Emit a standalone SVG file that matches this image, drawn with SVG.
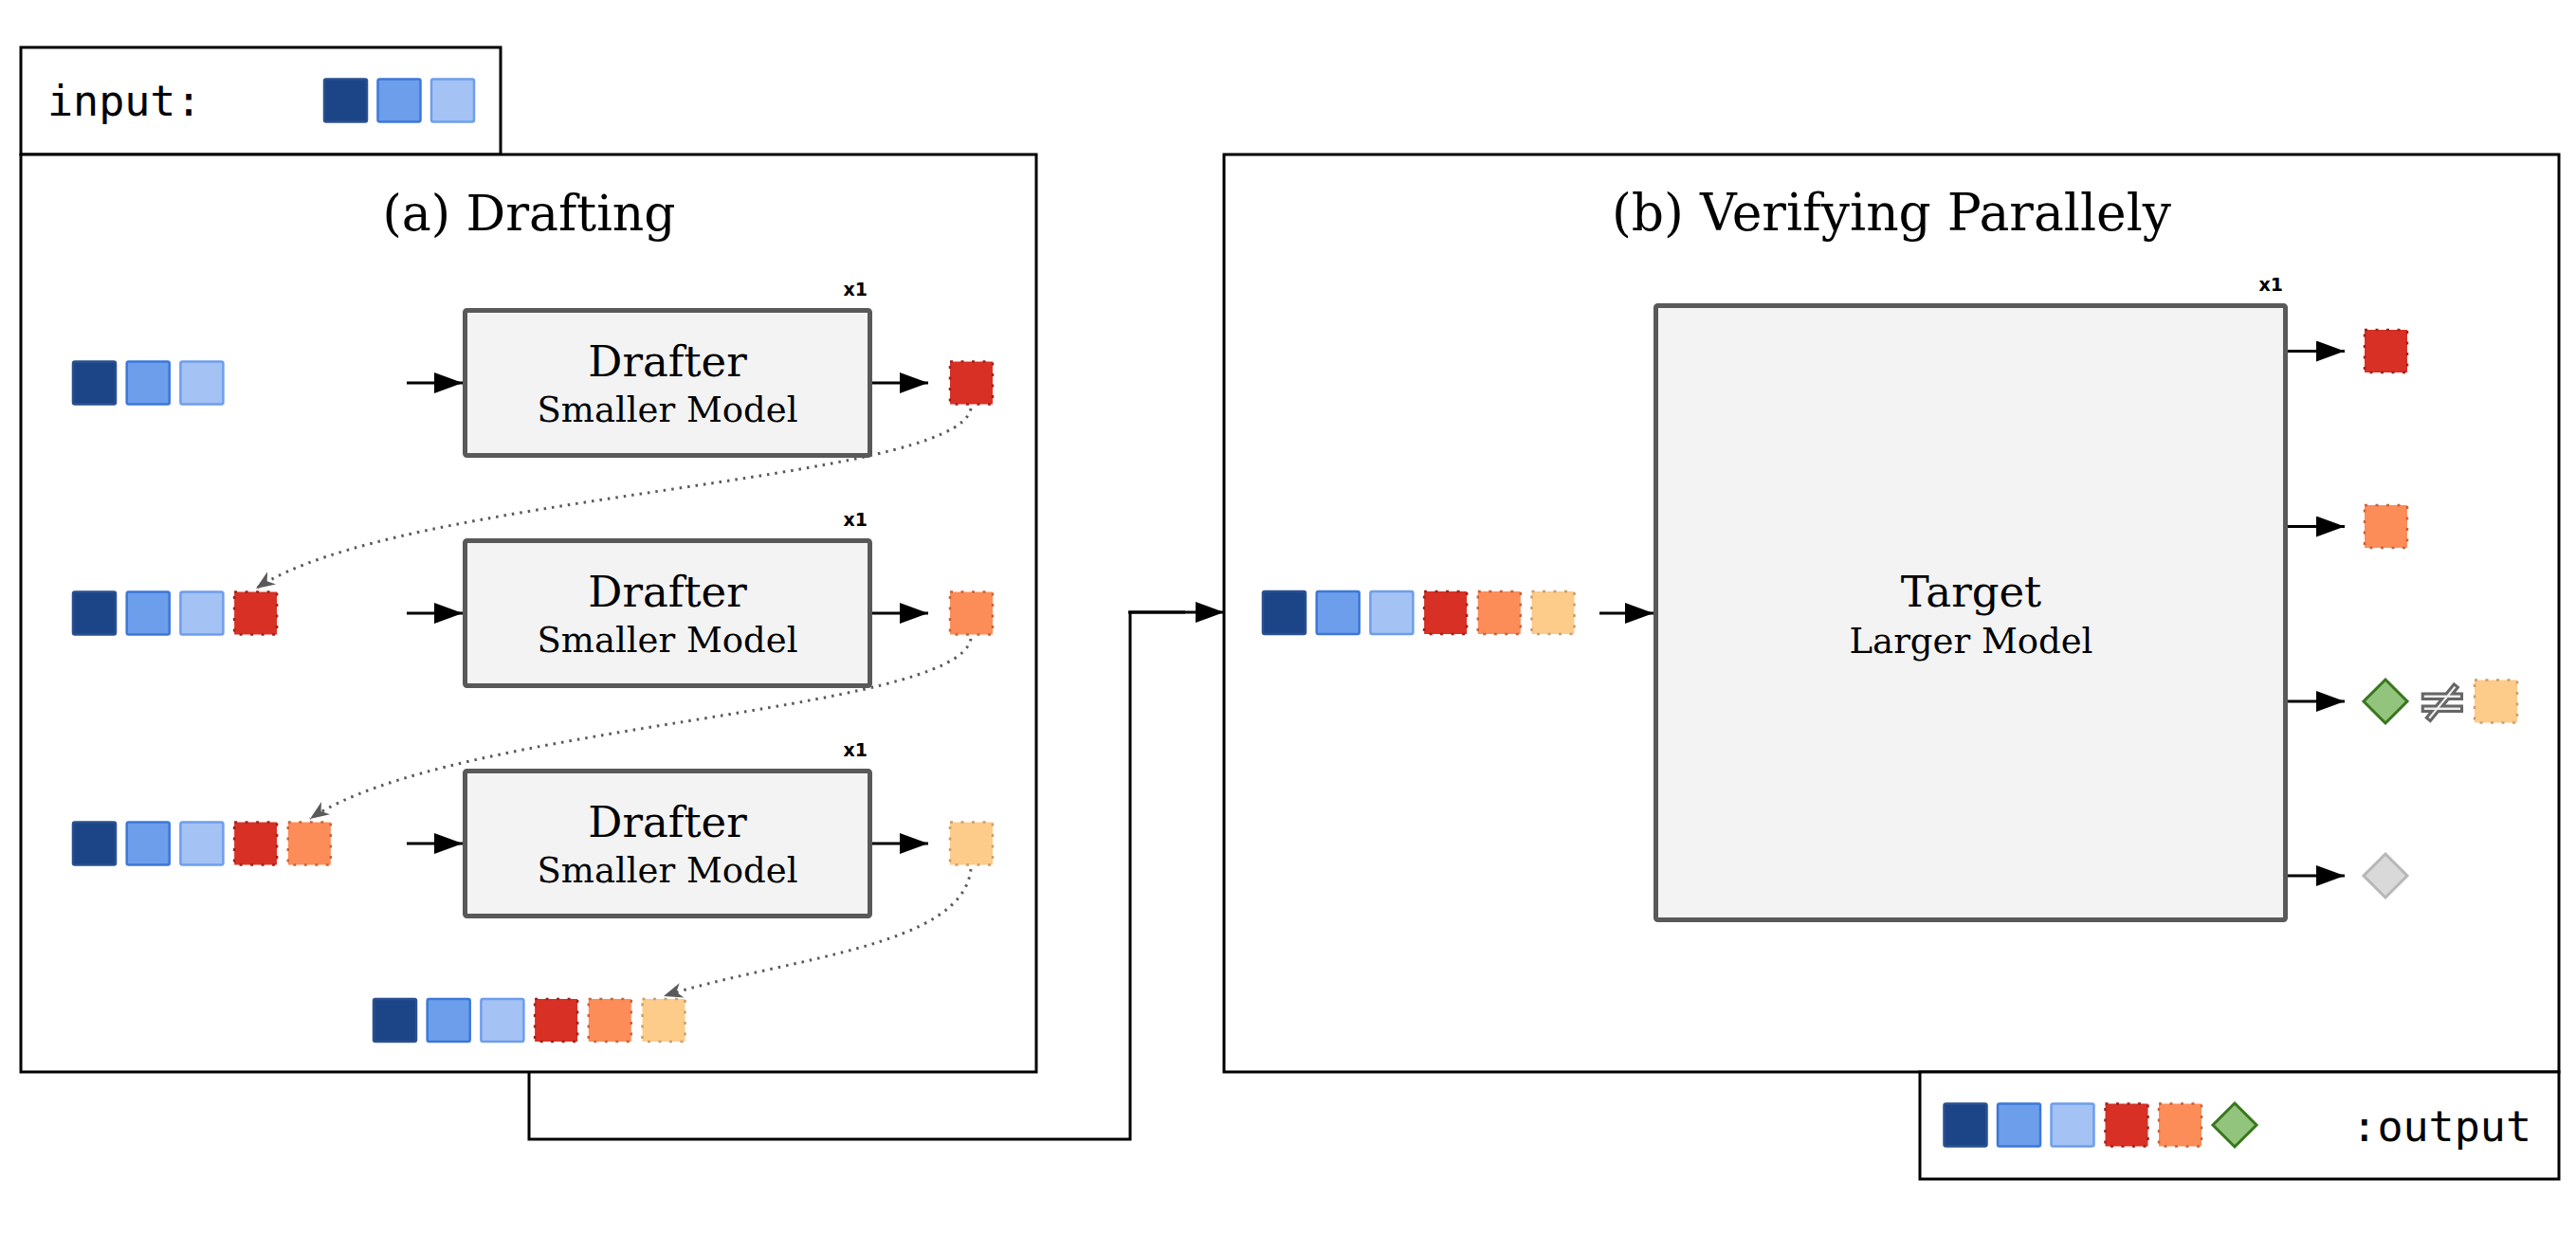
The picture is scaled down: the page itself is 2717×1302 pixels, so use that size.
<svg xmlns="http://www.w3.org/2000/svg" width="2717" height="1302" viewBox="0 0 2717 1302">
<style>
.frame{fill:#fff;stroke:#000;stroke-width:3}
.model{fill:#f3f3f3;stroke:#595959;stroke-width:5}
.title{font-family:"DejaVu Serif",serif;font-size:52px;fill:#000;text-anchor:middle}
.name{font-family:"DejaVu Serif",serif;font-size:45px;fill:#000;text-anchor:middle}
.sub{font-family:"DejaVu Serif",serif;font-size:37px;fill:#000;text-anchor:middle}
.x1{font-family:"DejaVu Sans",sans-serif;font-size:19px;font-weight:bold;fill:#000;text-anchor:end}
.mono{font-family:"DejaVu Sans Mono","Liberation Mono",monospace;font-size:45px;fill:#000}
.b1{fill:#1c4587;stroke:#2a5090;stroke-width:2.5}
.b2{fill:#6d9eeb;stroke:#3c78d8;stroke-width:2.5}
.b3{fill:#a4c2f4;stroke:#6d9eeb;stroke-width:2.5}
.r1{fill:#d93025;stroke:#9e2218;stroke-width:2.5;stroke-dasharray:3 8.5}
.r2{fill:#fc8d59;stroke:#cc6239;stroke-width:2.5;stroke-dasharray:3 8.5}
.r3{fill:#fdcb8a;stroke:#c9a06a;stroke-width:2.5;stroke-dasharray:3 8.5}
.gd{fill:#93c47d;stroke:#38761d;stroke-width:3}
.gy{fill:#d9d9d9;stroke:#b7b7b7;stroke-width:3}
.arr{fill:none;stroke:#000;stroke-width:3;marker-end:url(#ah)}
.dot{fill:none;stroke:#595959;stroke-width:3;stroke-dasharray:2.5 6;marker-end:url(#dh)}
.conn{fill:none;stroke:#000;stroke-width:3}
</style>
<defs>
<marker id="ah" markerUnits="userSpaceOnUse" markerWidth="30" markerHeight="22" refX="30" refY="11" orient="auto">
<path d="M0,0 L30,11 L0,22 z" fill="#000"/>
</marker>
<marker id="dh" markerUnits="userSpaceOnUse" markerWidth="20" markerHeight="16" refX="20" refY="8" orient="auto">
<path d="M0,0 L20,8 L0,16 L6,8 z" fill="#595959"/>
</marker>
</defs>

<!-- input legend -->
<g id="input-legend">
<rect class="frame" x="22" y="50" width="506" height="113"/>
<text class="mono" x="50" y="122">input:</text>
<rect class="b1" x="342" y="83.5" width="45" height="45" rx="2"/>
<rect class="b2" x="398.5" y="83.5" width="45" height="45" rx="2"/>
<rect class="b3" x="455" y="83.5" width="45" height="45" rx="2"/>
</g>

<!-- drafting panel -->
<g id="panel-a">
<rect class="frame" x="22" y="163" width="1071" height="968"/>
<text class="title" x="558" y="243">(a) Drafting</text>
</g>

<!-- verifying panel -->
<g id="panel-b">
<rect class="frame" x="1291" y="163" width="1408" height="968"/>
<text class="title" x="1995" y="243" style="font-size:53.5px">(b) Verifying Parallely</text>
</g>

<!-- output legend -->
<g id="output-legend">
<rect class="frame" x="2025" y="1131" width="674" height="113"/>
<rect class="b1" x="2050.5" y="1164.5" width="45" height="45" rx="2"/>
<rect class="b2" x="2107" y="1164.5" width="45" height="45" rx="2"/>
<rect class="b3" x="2163.5" y="1164.5" width="45" height="45" rx="2"/>
<rect class="r1" x="2220.5" y="1164.5" width="45" height="45"/>
<rect class="r2" x="2277" y="1164.5" width="45" height="45"/>
<path class="gd" d="M2357,1164 L2380,1187 L2357,1210 L2334,1187 z"/>
<text class="mono" x="2670" y="1204" text-anchor="end">:output</text>
</g>

<!-- drafters -->
<g id="drafter1">
<rect class="model" x="490.5" y="327.5" width="427" height="153" rx="2"/>
<text class="x1" x="915" y="312">x1</text>
<text class="name" x="704" y="397">Drafter</text>
<text class="sub" x="704" y="445">Smaller Model</text>
</g>
<g id="drafter2">
<rect class="model" x="490.5" y="570.5" width="427" height="153" rx="2"/>
<text class="x1" x="915" y="555">x1</text>
<text class="name" x="704" y="640">Drafter</text>
<text class="sub" x="704" y="688">Smaller Model</text>
</g>
<g id="drafter3">
<rect class="model" x="490.5" y="813.5" width="427" height="153" rx="2"/>
<text class="x1" x="915" y="798">x1</text>
<text class="name" x="704" y="883">Drafter</text>
<text class="sub" x="704" y="931">Smaller Model</text>
</g>

<!-- token rows in drafting -->
<g id="row1">
<rect class="b1" x="77" y="381.5" width="45" height="45" rx="2"/>
<rect class="b2" x="133.7" y="381.5" width="45" height="45" rx="2"/>
<rect class="b3" x="190.4" y="381.5" width="45" height="45" rx="2"/>
<rect class="r1" x="1002" y="381.5" width="45" height="45"/>
</g>
<g id="row2">
<rect class="b1" x="77" y="624.5" width="45" height="45" rx="2"/>
<rect class="b2" x="133.7" y="624.5" width="45" height="45" rx="2"/>
<rect class="b3" x="190.4" y="624.5" width="45" height="45" rx="2"/>
<rect class="r1" x="247.1" y="624.5" width="45" height="45"/>
<rect class="r2" x="1002" y="624.5" width="45" height="45"/>
</g>
<g id="row3">
<rect class="b1" x="77" y="867.5" width="45" height="45" rx="2"/>
<rect class="b2" x="133.7" y="867.5" width="45" height="45" rx="2"/>
<rect class="b3" x="190.4" y="867.5" width="45" height="45" rx="2"/>
<rect class="r1" x="247.1" y="867.5" width="45" height="45"/>
<rect class="r2" x="303.8" y="867.5" width="45" height="45"/>
<rect class="r3" x="1002" y="867.5" width="45" height="45"/>
</g>
<g id="row4">
<rect class="b1" x="394" y="1054" width="45" height="45" rx="2"/>
<rect class="b2" x="450.7" y="1054" width="45" height="45" rx="2"/>
<rect class="b3" x="507.4" y="1054" width="45" height="45" rx="2"/>
<rect class="r1" x="564.1" y="1054" width="45" height="45"/>
<rect class="r2" x="620.8" y="1054" width="45" height="45"/>
<rect class="r3" x="677.5" y="1054" width="45" height="45"/>
</g>

<!-- target -->
<g id="target">
<rect class="model" x="1746.5" y="322.5" width="664" height="648" rx="2"/>
<text class="x1" x="2408" y="307">x1</text>
<text class="name" x="2079" y="640">Target</text>
<text class="sub" x="2079" y="689">Larger Model</text>
</g>
<g id="target-input">
<rect class="b1" x="1332" y="624" width="45" height="45" rx="2"/>
<rect class="b2" x="1388.7" y="624" width="45" height="45" rx="2"/>
<rect class="b3" x="1445.4" y="624" width="45" height="45" rx="2"/>
<rect class="r1" x="1502.1" y="624" width="45" height="45"/>
<rect class="r2" x="1558.8" y="624" width="45" height="45"/>
<rect class="r3" x="1615.5" y="624" width="45" height="45"/>
</g>
<g id="target-output">
<rect class="r1" x="2494" y="348" width="45" height="45"/>
<rect class="r2" x="2494" y="533" width="45" height="45"/>
<path class="gd" d="M2516,717 L2539,740 L2516,763 L2493,740 z"/>
<text x="2576" y="762" font-family="DejaVu Sans,sans-serif" font-size="66" text-anchor="middle" fill="#eeeeee" stroke="#666666" stroke-width="3">≠</text>
<rect class="r3" x="2610" y="717.5" width="45" height="45"/>
<path class="gy" d="M2516,901 L2539,924 L2516,947 L2493,924 z"/>
</g>

<!-- connectors -->
<g id="connectors">
<line class="arr" x1="429" y1="404" x2="488" y2="404"/>
<line class="arr" x1="920" y1="404" x2="979" y2="404"/>
<line class="arr" x1="429" y1="647" x2="488" y2="647"/>
<line class="arr" x1="920" y1="647" x2="979" y2="647"/>
<line class="arr" x1="429" y1="890" x2="488" y2="890"/>
<line class="arr" x1="920" y1="890" x2="979" y2="890"/>
<path class="dot" d="M1024,431 C1010,510 420,520 270,621"/>
<path class="dot" d="M1024,674 C1010,753 475,763 327,864"/>
<path class="dot" d="M1024,917 C1015,1000 830,1010 700,1051"/>
<polyline class="conn" points="558,1131 558,1202 1192,1202 1192,646 1250,646"/>
<line class="arr" x1="1190" y1="646" x2="1291" y2="646"/>
<line class="arr" x1="1687" y1="647" x2="1744" y2="647"/>
<line class="arr" x1="2413" y1="370.5" x2="2473" y2="370.5"/>
<line class="arr" x1="2413" y1="555.5" x2="2473" y2="555.5"/>
<line class="arr" x1="2413" y1="740" x2="2473" y2="740"/>
<line class="arr" x1="2413" y1="924" x2="2473" y2="924"/>
</g>
</svg>
